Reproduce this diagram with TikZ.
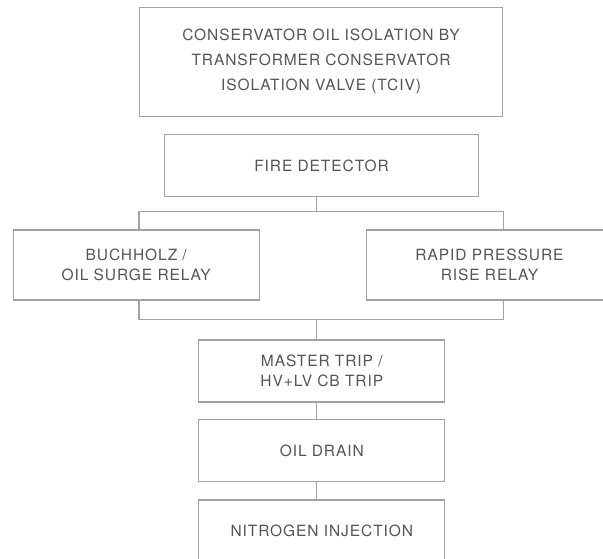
\documentclass[tikz,border=0pt]{standalone}
\usepackage{fontspec}
\newfontfamily\stagefont[LetterSpace=6]{TeX Gyre Heros}
\usetikzlibrary{positioning}
\definecolor{lineg}{HTML}{A2A2A2}
\definecolor{textg}{HTML}{555555}
\tikzset{
    stage/.style={draw=lineg,line width=1.2pt,fill=white,align=center,text=textg,
        font=\stagefont\fontsize{15.5}{20.5}\selectfont,inner sep=0pt},
    wire/.style={draw=lineg,line width=1.2pt}
}

\begin{document}
\begin{tikzpicture}[x=1pt,y=-1pt]
    \useasboundingbox (0,0) rectangle (603,558);
    \clip (0,0) rectangle (603,558);
    \node[stage,minimum width=363pt,minimum height=109pt,
          font=\stagefont\fontsize{15.5}{25}\selectfont] (tciv) at (321,61.7)
        {CONSERVATOR OIL ISOLATION BY\\TRANSFORMER CONSERVATOR\\ISOLATION VALVE (TCIV)};
    \node[stage,minimum width=314pt,minimum height=62pt]   (fire)   at (321.5,165.7) {FIRE DETECTOR};
    \node[stage,minimum width=246pt,minimum height=70pt]   (buch)   at (136.2,265)   {BUCHHOLZ /\\OIL SURGE RELAY};
    \node[stage,minimum width=246pt,minimum height=70pt]   (rapid)  at (489.5,265)   {RAPID PRESSURE\\RISE RELAY};
    \node[stage,minimum width=246pt,minimum height=62pt]   (master) at (321.8,370.9) {MASTER TRIP /\\HV+LV CB TRIP};
    \node[stage,minimum width=246pt,minimum height=62pt]   (drain)  at (321.8,450.5) {OIL DRAIN};
    \node[stage,minimum width=246pt,minimum height=62pt]   (nitro)  at (321.8,531)   {NITROGEN INJECTION};

    \coordinate (split) at ([xshift=-4.8pt]fire.south |- 0,211.7);
    \coordinate (join)  at ([xshift=-4.8pt]fire.south |- 0,319.3);

    \draw[wire] ([xshift=-4.8pt]fire.south) -- (split);
    \draw[wire] (buch.north -| tciv.west) |- (split) -| (rapid.north -| tciv.east);
    \draw[wire] (buch.south -| tciv.west) |- (join) -| (rapid.south -| tciv.east);
    \draw[wire] (join) -- (join |- master.north);
    \draw[wire] (join |- master.south) -- (join |- drain.north);
    \draw[wire] (join |- drain.south) -- (join |- nitro.north);
\end{tikzpicture}
\end{document}
